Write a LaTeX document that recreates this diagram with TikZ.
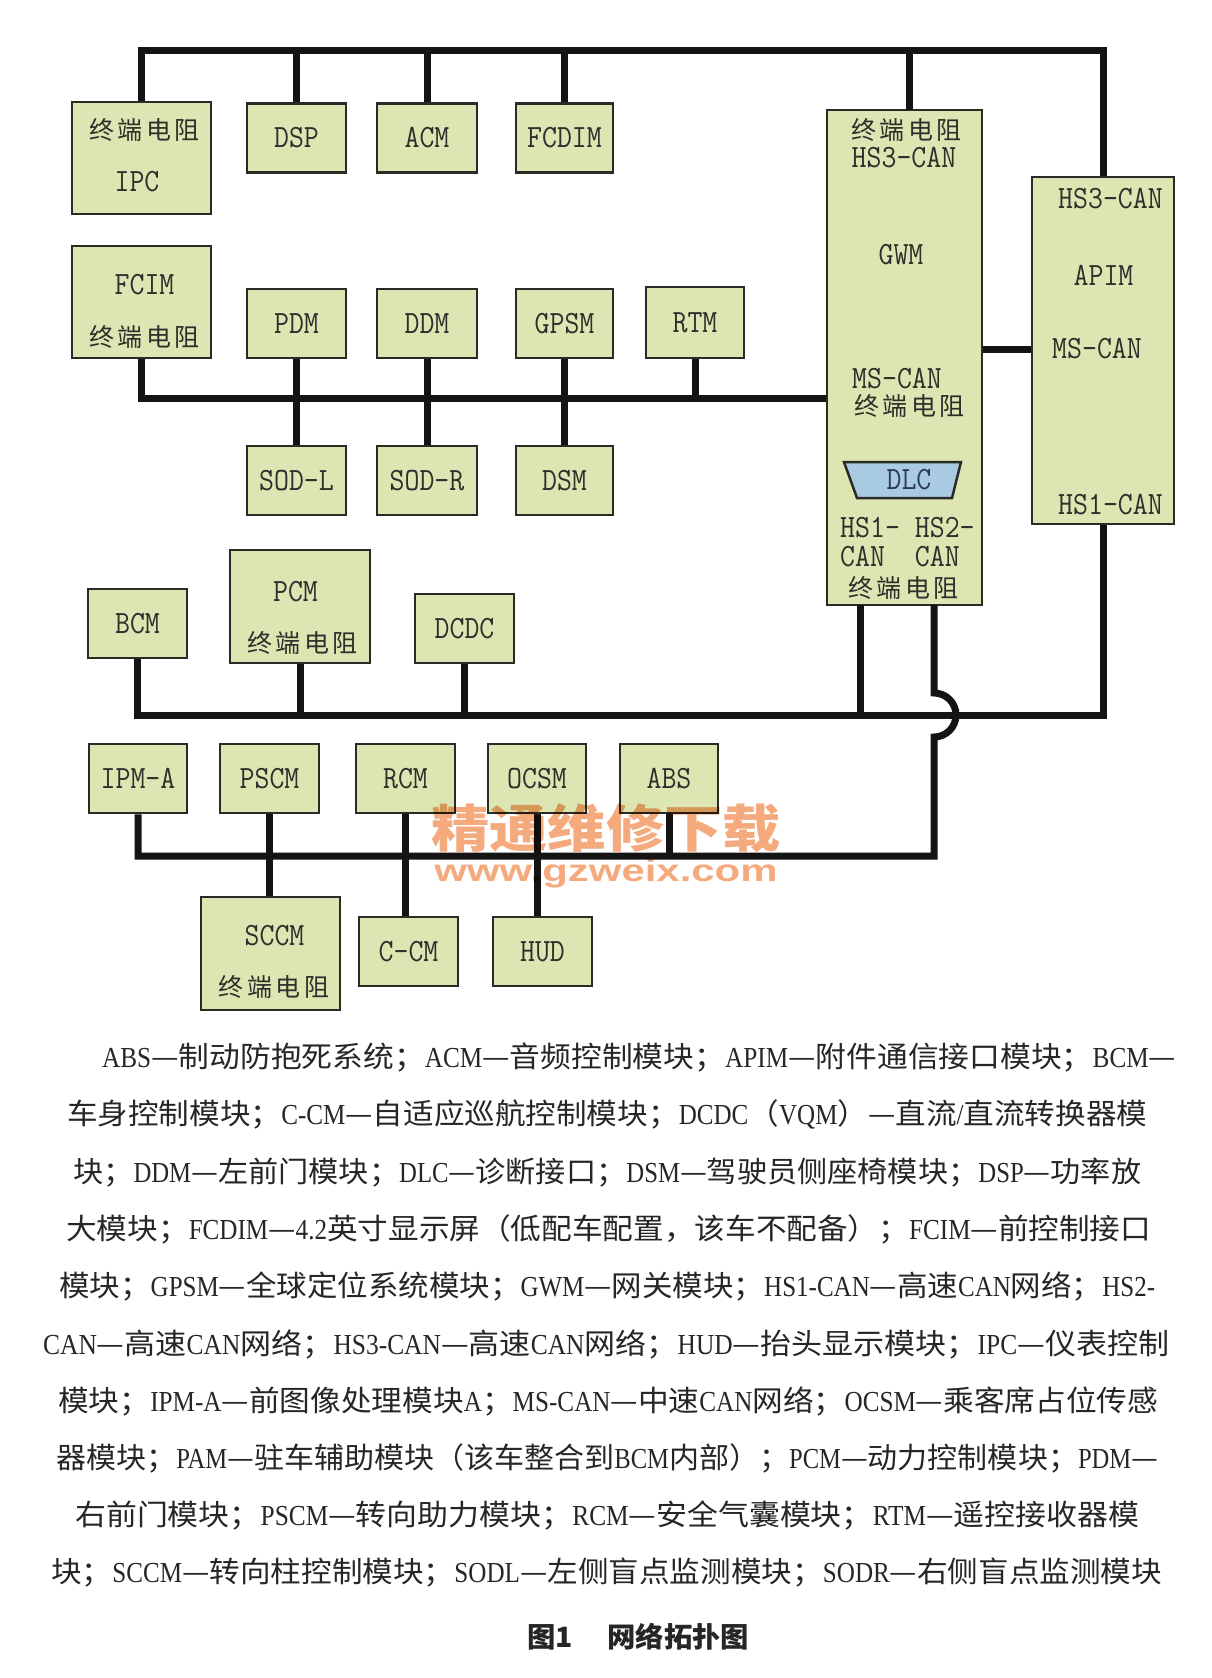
\documentclass[tikz,border=0pt]{standalone}
\usepackage{fontspec}
\usepackage{graphicx}
\usetikzlibrary{calc}
\newfontfamily\zhf{Noto Sans CJK SC}
\newfontfamily\latf[FakeStretch=0.82]{Liberation Serif}
\newfontfamily\wmf{Liberation Sans}
\definecolor{boxfill}{HTML}{DDE6B3}
\definecolor{boxline}{HTML}{2A2A26}
\definecolor{busline}{HTML}{141414}
\definecolor{labeltxt}{HTML}{2E2E2A}
\definecolor{dlcfill}{HTML}{A8CBE2}
\definecolor{dlctxt}{HTML}{2E3A55}
\definecolor{wmcol}{HTML}{F5AA7E}
\definecolor{captxt}{HTML}{262626}
\newcommand\mt[1]{\scalebox{1}[1.12]{\ttfamily\fontsize{29}{29}\selectfont #1}}
\newcommand\zdzz{{\zhf\fontsize{25}{25}\selectfont 终\hspace{3.5pt}端\hspace{3.5pt}电\hspace{3.5pt}阻}}
\newcommand\lt[1]{{\latf\fontsize{29}{29}\selectfont #1}}
\begin{document}
\begin{tikzpicture}[x=1pt,y=-1pt,
  box/.style={draw=boxline, fill=boxfill, line width=2.5pt, inner sep=0pt, text=labeltxt, minimum width=99pt, minimum height=69pt},
  bigbox/.style={box, minimum width=139pt, minimum height=112pt},
  bus/.style={draw=busline, line width=7pt, line join=miter},
  lbl/.style={inner sep=0pt, text=labeltxt},
  captext/.style={inner sep=0pt, anchor=base west, text=captxt, font=\zhf\fontsize{29}{29}\selectfont},
  wmtext/.style={inner sep=0pt, anchor=base, text=wmcol}]
\fill[white] (0,0) rectangle (1212,1678);
\useasboundingbox (0,0) rectangle (1212,1678);

% ---------- modules ----------
\node[bigbox] (ipc) at (141.5,158) {};
\node[box] (dsp) at (296.5,138) {\mt{DSP}};
\node[box, minimum width=100pt] (acm) at (427,138) {\mt{ACM}};
\node[box, minimum width=97pt] (fcdim) at (564.5,138) {\mt{FCDIM}};
\node[box, minimum width=155pt, minimum height=495pt] (gwm) at (904.5,357.5) {};
\node[box, minimum width=142pt, minimum height=347pt] (apim) at (1103,350.5) {};
\node[bigbox] (fcim) at (141.5,302) {};
\node[box] (pdm) at (296.5,323.5) {\mt{PDM}};
\node[box, minimum width=100pt] (ddm) at (427,323.5) {\mt{DDM}};
\node[box, minimum width=97pt] (gpsm) at (564.5,323.5) {\mt{GPSM}};
\node[box, minimum width=98pt, minimum height=71pt] (rtm) at (695,322.5) {\mt{RTM}};
\node[box] (sodl) at (296.5,480.5) {\mt{SOD-L}};
\node[box, minimum width=100pt] (sodr) at (427,480.5) {\mt{SOD-R}};
\node[box, minimum width=97pt] (dsm) at (564.5,480.5) {\mt{DSM}};
\node[box] (bcm) at (137.5,623.5) {\mt{BCM}};
\node[box, minimum width=140pt, minimum height=113pt] (pcm) at (300,606.5) {};
\node[box] (dcdc) at (464.5,628.5) {\mt{DCDC}};
\node[box, minimum width=98pt] (ipma) at (138,778.5) {\mt{IPM-A}};
\node[box] (pscm) at (269.5,778.5) {\mt{PSCM}};
\node[box] (rcm) at (405.5,778.5) {\mt{RCM}};
\node[box, minimum width=98pt] (ocsm) at (537,778.5) {\mt{OCSM}};
\node[box, minimum width=98pt] (abs) at (669,778.5) {\mt{ABS}};
\node[box, minimum width=139pt, minimum height=113pt] (sccm) at (270.5,953.5) {};
\node[box] (ccm) at (408.5,951.5) {\mt{C-CM}};
\node[box] (hud) at (542.5,951.5) {\mt{HUD}};

% ---------- labels inside multi-line modules ----------
\node[lbl] (ipcA) at (144.5,130) {\zdzz};
\node[lbl] (ipcB) at (137,182) {\mt{IPC}};
\node[lbl] (fcimA) at (144.5,285) {\mt{FCIM}};
\node[lbl] (fcimB) at (144.5,337) {\zdzz};
\node[lbl] (pcmA) at (295.5,592) {\mt{PCM}};
\node[lbl] (pcmB) at (302.5,643) {\zdzz};
\node[lbl] (sccmA) at (274.5,936) {\mt{SCCM}};
\node[lbl] (sccmB) at (274,987) {\zdzz};
\node[lbl] (gwmA) at (906.5,130.5) {\zdzz};
\node[lbl] (gwmB) at (904,157.5) {\mt{HS3-CAN}};
\node[lbl] (gwmC) at (901,255) {\mt{GWM}};
\node[lbl, anchor=west] (gwmD) at (852,379) {\mt{MS-CAN}};
\node[lbl, anchor=west] (gwmE) at (854,406) {\zdzz};
\node[lbl, anchor=west, align=left, font=\fontsize{29}{29}\selectfont] (gwmF) at (840,542)
  {\mt{HS1-~HS2-}\\\mt{CAN~~CAN}};
\node[lbl] (gwmH) at (903.5,588) {\zdzz};
\node[lbl] (apimA) at (1110.5,199) {\mt{HS3-CAN}};
\node[lbl] (apimB) at (1103.5,275) {\mt{APIM}};
\node[lbl] (apimC) at (1097,349) {\mt{MS-CAN}};
\node[lbl] (apimD) at (1110.5,505) {\mt{HS1-CAN}};

% DLC connector symbol
\draw[draw=boxline, fill=dlcfill, line width=2.5pt, line join=miter]
  (844,462) -- (961,462) -- (952,498) -- (857,498) -- cycle;
\node[lbl, text=dlctxt] (dlc) at (909,480) {\mt{DLC}};

% ---------- bus lines ----------
\coordinate (t) at (0,51);
\coordinate (m) at (0,398);
\coordinate (al) at (0,349);
\coordinate (h1) at (0,715);
\coordinate (h2) at (0,856);
\coordinate (gn) at (909,110);
\coordinate (gs1) at (860,605);
\coordinate (gs2) at (934,605);

% HS3-CAN
\draw[bus] (ipc.north) |- (t -| apim.north) -- (apim.north);
\draw[bus] (dsp.north) -- (dsp.north |- t);
\draw[bus] (acm.north) -- (acm.north |- t);
\draw[bus] (fcdim.north) -- (fcdim.north |- t);
\draw[bus] (gn) -- (gn |- t);
% MS-CAN
\draw[bus] (fcim.south) |- (m -| gwm.west);
\draw[bus] (pdm.south) -- (sodl.north);
\draw[bus] (ddm.south) -- (sodr.north);
\draw[bus] (gpsm.south) -- (dsm.north);
\draw[bus] (rtm.south) -- (rtm.south |- m);
\draw[bus] (gwm.east |- al) -- (apim.west |- al);
% HS1-CAN
\draw[bus] (bcm.south) |- (h1 -| apim.south) -- (apim.south);
\draw[bus] (pcm.south) -- (pcm.south |- h1);
\draw[bus] (dcdc.south) -- (dcdc.south |- h1);
\draw[bus] (gs1) -- (gs1 |- h1);
% HS2-CAN (hops over HS1-CAN)
\draw[bus] (gs2) -- ($(gs2 |- h1)+(0,-22)$) arc[start angle=-90, end angle=90, radius=22]
  -- (gs2 |- h2) -| (ipma.south);
\draw[bus] (pscm.south) -- (pscm.south |- sccm.north);
\draw[bus] (rcm.south) -- (rcm.south |- ccm.north);
\draw[bus] (ocsm.south) -- (ocsm.south |- hud.north);
\draw[bus] (abs.south) -- (abs.south |- h2);

% ---------- watermark ----------
\begin{scope}[blend mode=multiply]
\node[wmtext] (wm1) at (606,847) {\resizebox{350pt}{\height}{\zhf\bfseries\fontsize{51}{51}\selectfont 精通维修下载}};
\node[wmtext] (wm2) at (606,881) {\resizebox{343pt}{\height}{\wmf\bfseries\fontsize{31}{31}\selectfont www.gzweix.com}};
\end{scope}

% ---------- caption ----------
\node[captext] (c1) at (102,1067) {\resizebox{1074pt}{\height}{\lt{ABS}—制动防抱死系统；\lt{ACM}—音频控制模块；\lt{APIM}—附件通信接口模块；\lt{BCM}—}};
\node[captext] (c2) at (67,1124) {\resizebox{1080pt}{\height}{车身控制模块；\lt{C-CM}—自适应巡航控制模块；\lt{DCDC}（\lt{VQM}）—直流\lt{/}直流转换器模}};
\node[captext] (c3) at (73,1182) {\resizebox{1068pt}{\height}{块；\lt{DDM}—左前门模块；\lt{DLC}—诊断接口；\lt{DSM}—驾驶员侧座椅模块；\lt{DSP}—功率放}};
\node[captext] (c4) at (66,1239) {\resizebox{1085pt}{\height}{大模块；\lt{FCDIM}—\lt{4.2}英寸显示屏（低配车配置，该车不配备）；\lt{FCIM}—前控制接口}};
\node[captext] (c5) at (59,1296) {\resizebox{1096pt}{\height}{模块；\lt{GPSM}—全球定位系统模块；\lt{GWM}—网关模块；\lt{HS1-CAN}—高速\lt{CAN}网络；\lt{HS2-}}};
\node[captext] (c6) at (43,1354) {\resizebox{1126pt}{\height}{\lt{CAN}—高速\lt{CAN}网络；\lt{HS3-CAN}—高速\lt{CAN}网络；\lt{HUD}—抬头显示模块；\lt{IPC}—仪表控制}};
\node[captext] (c7) at (58,1411) {\resizebox{1100pt}{\height}{模块；\lt{IPM-A}—前图像处理模块\lt{A}；\lt{MS-CAN}—中速\lt{CAN}网络；\lt{OCSM}—乘客席占位传感}};
\node[captext] (c8) at (56,1468) {\resizebox{1102pt}{\height}{器模块；\lt{PAM}—驻车辅助模块（该车整合到\lt{BCM}内部）；\lt{PCM}—动力控制模块；\lt{PDM}—}};
\node[captext] (c9) at (75,1525) {\resizebox{1064pt}{\height}{右前门模块；\lt{PSCM}—转向助力模块；\lt{RCM}—安全气囊模块；\lt{RTM}—遥控接收器模}};
\node[captext] (c10) at (51,1582) {\resizebox{1111pt}{\height}{块；\lt{SCCM}—转向柱控制模块；\lt{SODL}—左侧盲点监测模块；\lt{SODR}—右侧盲点监测模块}};
\node[captext] (title) at (527,1647) {\resizebox{222pt}{\height}{\bfseries\fontsize{28}{28}\selectfont 图1\hspace{34pt}网络拓扑图}};
\end{tikzpicture}
\end{document}
